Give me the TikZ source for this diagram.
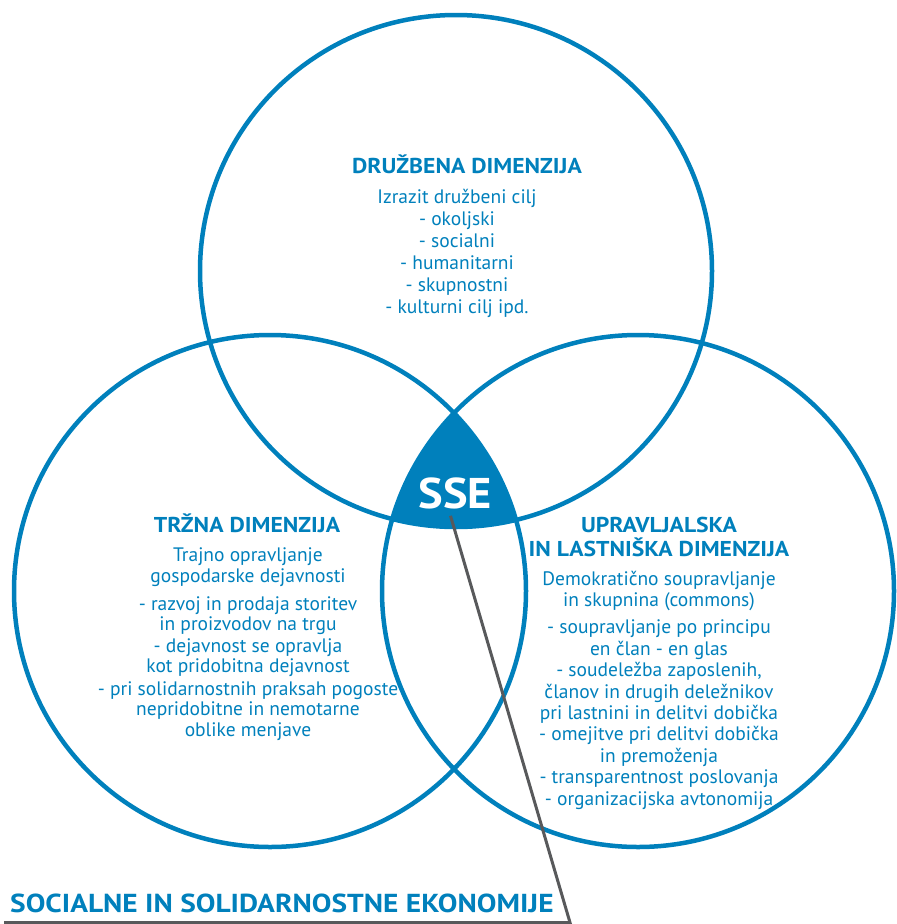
\documentclass[tikz,border=0pt]{standalone}
\usepackage{fontspec}
\setmainfont{PT Sans}
\newfontfamily\hfont{PT Sans}[FakeStretch=1.1]
\newfontfamily\tfont{PT Sans}[FakeStretch=1.13]
\newfontfamily\sfont{PT Sans}[FakeStretch=1.08]
\definecolor{sseblue}{RGB}{0,128,188}
\definecolor{ssegray}{RGB}{88,89,91}
\begin{document}
\begin{tikzpicture}[x=1pt,y=-1pt,
  ring/.style={draw=sseblue, line width=4.5pt},
  head/.style={text=sseblue, font=\hfont\bfseries\fontsize{21.5}{24}\selectfont, align=center, inner sep=0pt, anchor=base},
  body/.style={text=sseblue, font=\fontsize{19.5}{22}\selectfont, align=center, inner sep=0pt, anchor=base},
  pointer/.style={draw=ssegray, line width=3pt}]
\useasboundingbox (0,0) rectangle (897,924);
% centres
\coordinate (ct) at (456,271);
\coordinate (cl) at (270,591);
\coordinate (cr) at (638,591);
% SSE intersection
\begin{scope}
  \clip (ct) circle (256);
  \clip (cl) circle (256);
  \fill[sseblue] (cr) circle (256);
\end{scope}
\draw[ring] (ct) circle (256);
\draw[ring] (cl) circle (256);
\draw[ring] (cr) circle (256);
% SSE label
\node[text=white, font=\sfont\bfseries\fontsize{43}{43}\selectfont, inner sep=0pt, anchor=base] (sse) at (455.5,508) {SSE};
% pointer
\coordinate (tip) at (570,922.5);
\coordinate (tail) at (4,922.5);
\draw[pointer] ([xshift=-5pt,yshift=-7pt]sse.south) -- (tip) -- (tail);
% title
\node[text=sseblue, font=\tfont\bfseries\fontsize{26}{30}\selectfont, inner sep=0pt, anchor=base west] (title) at (10,912) {SOCIALNE IN SOLIDARNOSTNE EKONOMIJE};
% top (anchor base = last line baseline)
\node[head] (h1) at (467,173) {DRUŽBENA DIMENZIJA};
\node[body] (b1) at (457,313) {Izrazit družbeni cilj\\- okoljski\\- socialni\\- humanitarni\\- skupnostni\\- kulturni cilj ipd.};
% left
\node[head] (h2) at (247,532) {TRŽNA DIMENZIJA};
\node[body, font=\fontsize{19.5}{20.2}\selectfont] (b2) at (248,736) {Trajno opravljanje\\gospodarske dejavnosti\\[8pt]- razvoj in prodaja storitev\\in proizvodov na trgu\\[1.5pt]- dejavnost se opravlja\\kot pridobitna dejavnost\\[3pt]- pri solidarnostnih praksah pogoste\\nepridobitne in nemotarne\\oblike menjave};
% right
\node[head] (h3) at (659,556) {UPRAVLJALSKA\\IN LASTNIŠKA DIMENZIJA};
\node[body, font=\fontsize{19.5}{21.4}\selectfont] (b3) at (659,805) {Demokratično soupravljanje\\in skupnina (commons)\\[6pt]- soupravljanje po principu\\en član - en glas\\- soudeležba zaposlenih,\\članov in drugih deležnikov\\pri lastnini in delitvi dobička\\- omejitve pri delitvi dobička\\in premoženja\\- transparentnost poslovanja\\- organizacijska avtonomija};
\end{tikzpicture}
\end{document}
